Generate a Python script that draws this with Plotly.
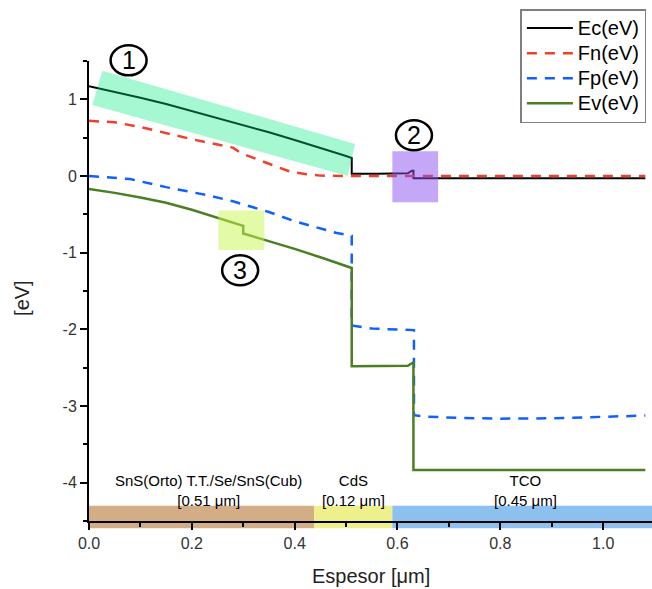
import plotly.graph_objects as go

# ---- band-diagram data (thickness in µm, energy in eV) ----
x_ec = [0.0, 0.05, 0.10, 0.15, 0.20, 0.25, 0.30, 0.35, 0.40, 0.45, 0.50, 0.511,
        0.511, 0.56, 0.60, 0.620, 0.628, 0.631, 0.631, 0.70, 0.80, 0.90, 1.00, 1.082]
ec = [1.17, 1.10, 1.02, 0.94, 0.85, 0.76, 0.67, 0.57, 0.47, 0.37, 0.26, 0.235,
      0.03, 0.03, 0.03, 0.035, 0.07, 0.07, -0.03, -0.03, -0.03, -0.03, -0.03, -0.03]

x_fn = [0.0, 0.05, 0.10, 0.15, 0.20, 0.25, 0.28, 0.295, 0.31, 0.35, 0.39, 0.42,
        0.45, 0.50, 0.60, 0.70, 0.80, 0.90, 1.00, 1.082]
fn = [0.72, 0.70, 0.64, 0.56, 0.48, 0.41, 0.37, 0.30, 0.26, 0.16, 0.06, 0.025,
      0.005, 0.0, 0.0, 0.0, 0.0, 0.0, 0.0, 0.0]

x_fp = [0.0, 0.08, 0.15, 0.23, 0.28, 0.31, 0.35, 0.40, 0.45, 0.48, 0.511,
        0.511, 0.55, 0.60, 0.632, 0.632, 0.66, 0.72, 0.80, 0.90, 0.97, 1.02, 1.082]
fp = [0.0, -0.04, -0.145, -0.25, -0.33, -0.39, -0.47, -0.59, -0.69, -0.74, -0.78,
      -1.95, -1.99, -2.0, -2.01, -3.12, -3.14, -3.155, -3.165, -3.16, -3.15, -3.14, -3.125]

x_ev = [0.0, 0.05, 0.10, 0.15, 0.20, 0.25, 0.30, 0.30, 0.346, 0.40, 0.45, 0.511,
        0.511, 0.56, 0.62, 0.631, 0.631, 0.80, 1.082]
ev = [-0.17, -0.22, -0.28, -0.35, -0.44, -0.55, -0.65, -0.75, -0.84, -0.95, -1.06, -1.20,
      -2.48, -2.48, -2.475, -2.43, -3.835, -3.835, -3.835]

series_names = ["Ec(eV)", "Fn(eV)", "Fp(eV)", "Ev(eV)"]

# layers of the cell: name, thickness label, x extent
layer_names = ["SnS(Orto) T.T./Se/SnS(Cub)", "CdS", "TCO"]
layer_thick = ["[0.51 μm]", "[0.12 μm]", "[0.45 μm]"]
layer_x0 = [0.0, 0.438, 0.590]
layer_x1 = [0.438, 0.590, 1.2]
layer_label_x = [0.233, 0.514, 0.848]
layer_colors = ["#d3ad85", "#eef08c", "#8cc0ef"]

y_tickvals = [-4, -3, -2, -1, 0, 1]
y_ticktext = ["-4", "-3", "-2", "-1", "0", "1"]
y_minor = [-4.5, -3.5, -2.5, -1.5, -0.5, 0.5, 1.5]
x_tickvals = [0.0, 0.2, 0.4, 0.6, 0.8, 1.0]
x_ticktext = ["0.0", "0.2", "0.4", "0.6", "0.8", "1.0"]

X_RANGE = [0.0, 1.095]
Y_RANGE = [-4.5, 1.5]

FONT = "Arial, Liberation Sans, sans-serif"


def legend_label(s):
    return "<span style='font-size:20px'>" + s + "</span>"


fig = go.Figure()
fig.add_trace(go.Scatter(x=x_ec, y=ec, mode="lines", name=legend_label(series_names[0]),
                         line=dict(color="black", width=2)))
fig.add_trace(go.Scatter(x=x_fn, y=fn, mode="lines", name=legend_label(series_names[1]),
                         line=dict(color="#f0402a", width=2.5, dash="10px,8px")))
fig.add_trace(go.Scatter(x=x_fp, y=fp, mode="lines", name=legend_label(series_names[2]),
                         line=dict(color="#1060ff", width=2.5, dash="10px,8px")))
fig.add_trace(go.Scatter(x=x_ev, y=ev, mode="lines", name=legend_label(series_names[3]),
                         line=dict(color="#4b7f23", width=2.5)))

shapes = []
# coloured layer strip along the bottom axis
for x0, x1, c in zip(layer_x0, layer_x1, layer_colors):
    shapes.append(dict(type="rect", xref="x", yref="paper", x0=x0, x1=x1,
                       y0=-0.016, y1=0.033, fillcolor=c, line=dict(width=0),
                       layer="below"))

# highlighted regions
shapes.append(dict(type="path", xref="x", yref="y",
                   path="M 0.0259 1.374 L 0.5175 0.419 L 0.503 0.0 L 0.0064 0.927 Z",
                   fillcolor="rgb(0,235,126)", opacity=0.35, line=dict(width=0),
                   layer="above"))
shapes.append(dict(type="rect", xref="x", yref="y", x0=0.590, x1=0.679,
                   y0=-0.341, y1=0.323, fillcolor="rgb(140,80,240)", opacity=0.5,
                   line=dict(width=0), layer="above"))
shapes.append(dict(type="rect", xref="x", yref="y", x0=0.2516, x1=0.341,
                   y0=-0.966, y1=-0.449, fillcolor="rgb(200,245,80)", opacity=0.5,
                   line=dict(width=0), layer="above"))


def to_paper_x(v):
    return (v - X_RANGE[0]) / (X_RANGE[1] - X_RANGE[0])


def to_paper_y(v):
    return (v - Y_RANGE[0]) / (Y_RANGE[1] - Y_RANGE[0])


# circled region markers
marker_labels = ["1", "2", "3"]
marker_x = [0.077, 0.632, 0.294]
marker_y = [1.509, 0.531, -1.23]

annotations = []
for lab, mx, my in zip(marker_labels, marker_x, marker_y):
    px, py = to_paper_x(mx), to_paper_y(my)
    shapes.append(dict(type="circle", xref="paper", yref="paper",
                       xsizemode="pixel", ysizemode="pixel",
                       xanchor=px, yanchor=py,
                       x0=-18, x1=18, y0=-15, y1=15,
                       line=dict(color="black", width=2.5), fillcolor="rgba(0,0,0,0)",
                       layer="above"))
    annotations.append(dict(x=px, y=py, xref="paper", yref="paper", text=lab,
                            showarrow=False,
                            font=dict(family=FONT, size=25, color="black"),
                            xanchor="center", yanchor="middle"))

for name, th, lx in zip(layer_names, layer_thick, layer_label_x):
    annotations.append(dict(x=lx, y=0.066, xref="x", yref="paper",
                            text=name + "<br>" + th, showarrow=False,
                            font=dict(family=FONT, size=15, color="black"),
                            xanchor="center", yanchor="middle"))

annotations.append(dict(x=0.5, y=-0.1196, xref="paper", yref="paper",
                        text="Espesor [μm]", showarrow=False,
                        font=dict(family=FONT, size=20, color="#222"),
                        xanchor="center", yanchor="middle"))
annotations.append(dict(x=-0.119, y=0.485, xref="paper", yref="paper",
                        text="[eV]", showarrow=False, textangle=-90,
                        font=dict(family=FONT, size=20, color="#222"),
                        xanchor="center", yanchor="middle"))

fig.update_layout(
    width=652, height=589,
    margin=dict(l=89, r=0, t=61, b=68),
    paper_bgcolor="white", plot_bgcolor="white",
    font=dict(family=FONT, color="#222"),
    shapes=shapes, annotations=annotations,
    legend=dict(x=0.99, y=1.113, xanchor="right", yanchor="top",
                bgcolor="white", bordercolor="#7f7f7f", borderwidth=1.5,
                font=dict(family=FONT, size=17, color="black"),
                itemwidth=46, tracegroupgap=0),
    xaxis=dict(range=X_RANGE, showgrid=False, zeroline=False,
               showline=True, linecolor="black", linewidth=2,
               ticks="outside", ticklen=7, tickwidth=2, tickcolor="black",
               tickmode="array", tickvals=x_tickvals, ticktext=x_ticktext,
               tickfont=dict(family=FONT, size=16, color="#333"),
               minor=dict(tickmode="linear", tick0=0, dtick=0.1, ticks="outside",
                          ticklen=4, tickwidth=2, tickcolor="black")),
    yaxis=dict(range=Y_RANGE, showgrid=False, zeroline=False,
               showline=True, linecolor="black", linewidth=2,
               ticks="outside", ticklen=7, tickwidth=2, tickcolor="black",
               tickmode="array", tickvals=y_tickvals, ticktext=y_ticktext,
               tickfont=dict(family=FONT, size=16, color="#333"),
               minor=dict(tickmode="array", tickvals=y_minor, ticks="outside",
                          ticklen=4, tickwidth=2, tickcolor="black")),
)

fig.write_html("out.html")
